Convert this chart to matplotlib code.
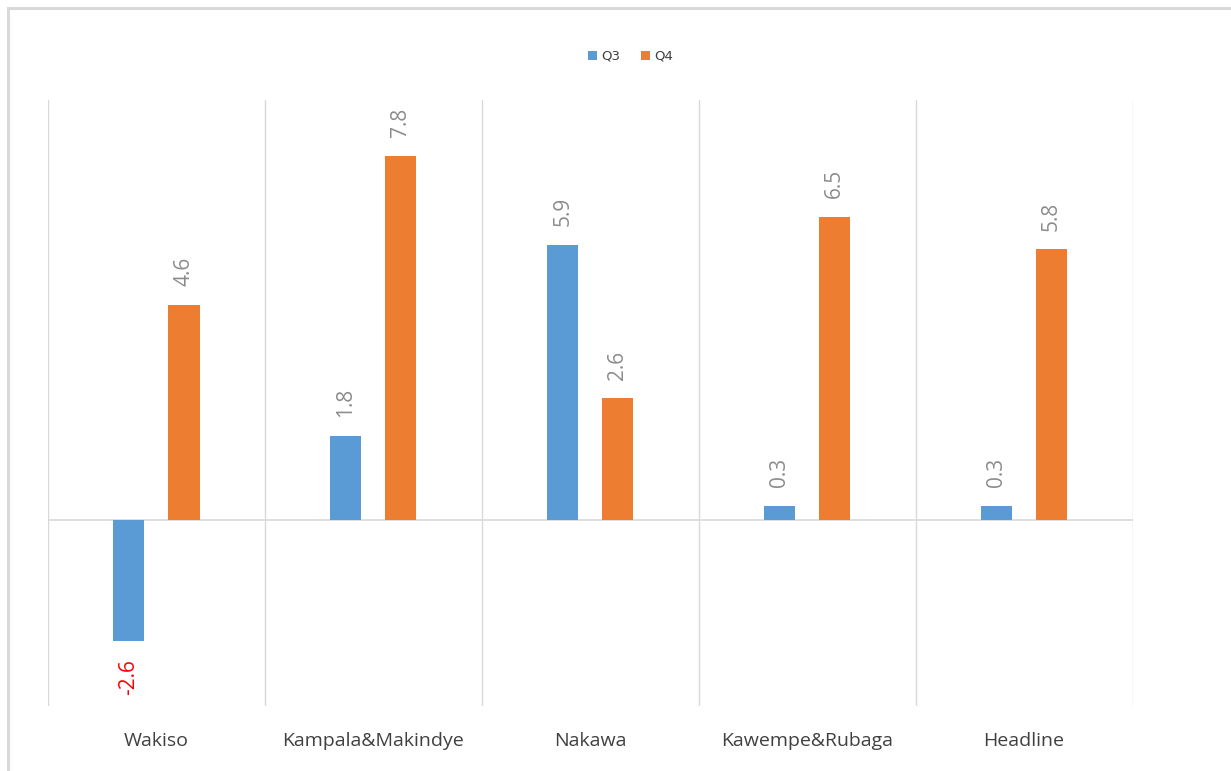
import matplotlib
matplotlib.use('Agg')
import matplotlib.pyplot as plt
from matplotlib.patches import Rectangle
import numpy as np

# data
categories = ['Wakiso', 'Kampala&Makindye', 'Nakawa', 'Kawempe&Rubaga', 'Headline']
q3 = [-2.6, 1.8, 5.9, 0.3, 0.3]
q4 = [4.6, 7.8, 2.6, 6.5, 5.8]

blue = '#5B9BD5'
orange = '#ED7D31'
grid_c = '#D9D9D9'

fig = plt.figure(figsize=(12.31, 7.71), dpi=100)
# chart border (runs off the right and bottom edges)
fig.patches.append(Rectangle((0.0069, -0.05), 1.1, 0.989 + 0.05,
                             transform=fig.transFigure, fill=False,
                             edgecolor='#D9D9D9', linewidth=2.2))

ax = fig.add_axes([0.039, 0.0843, 0.881, 0.786])
x = np.arange(len(categories))
w = 0.143
off = 0.127
ax.bar(x - off, q3, w, color=blue, label='Q3', zorder=3)
ax.bar(x + off, q4, w, color=orange, label='Q4', zorder=3)

ax.set_xlim(-0.5, len(categories) - 0.5)
ax.set_ylim(-4, 9)

# vertical separators
for b in np.arange(-0.5, len(categories), 1.0):
    ax.axvline(b, color=grid_c, linewidth=1, zorder=1)
ax.axhline(0, color=grid_c, linewidth=1.2, zorder=2)

for s in ax.spines.values():
    s.set_visible(False)
ax.set_yticks([])
ax.set_xticks(x)
ax.set_xticklabels(categories, fontsize=14, color='#404040', family='Open Sans')
ax.tick_params(axis='x', length=0, pad=19)

# data labels
def put_labels(xs, vals):
    for xi, v in zip(xs, vals):
        if v >= 0:
            ax.text(xi, v + 0.4, f'{v:.1f}', rotation=90, ha='center', va='bottom',
                    fontsize=15, color='#8C8C8C', family='Open Sans')
        else:
            ax.text(xi, v - 0.4, f'{v:.1f}', rotation=90, ha='center', va='top',
                    fontsize=15, color='#FF0000', family='Open Sans')

put_labels(x - off, q3)
put_labels(x + off, q4)

leg = fig.legend(loc='center', bbox_to_anchor=(0.512, 0.927), ncol=2, frameon=False,
                 fontsize=9.5, handlelength=0.7, handleheight=0.7, handletextpad=0.3,
                 columnspacing=1.6)
for t in leg.get_texts():
    t.set_color('#404040')

fig.savefig('out.png', dpi=100)
